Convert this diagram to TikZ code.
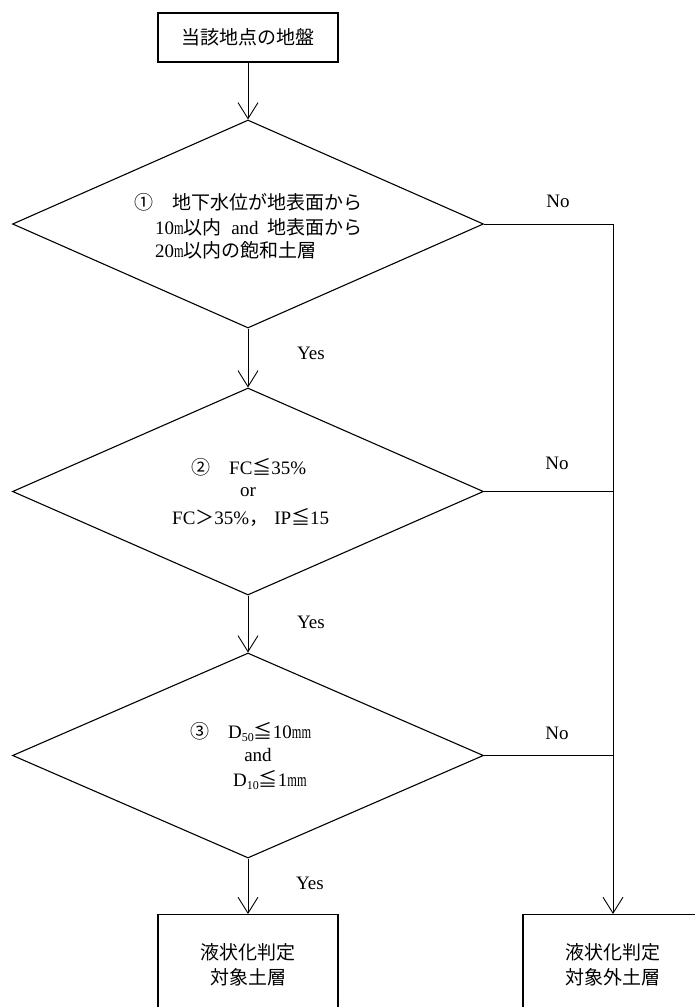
\documentclass[tikz,border=0pt]{standalone}
\usepackage{fontspec}
\setmainfont{Liberation Serif}
\newfontfamily\jp{Noto Sans CJK JP}
\newcommand\jpt[1]{{\jp #1}}
\newcommand\subn[1]{\raisebox{-0.35ex}{\fontsize{12}{12}\selectfont #1}}
\newcommand\nm[1]{\scalebox{0.65}[1]{#1}}
\usetikzlibrary{arrows.meta,shapes.geometric}
\begin{document}
\begin{tikzpicture}[x=1pt,y=-1pt,
  box/.style={draw,line width=1.1pt,rectangle,minimum width=180pt,inner sep=0pt,align=center,font=\jp\fontsize{19}{25}\selectfont},
  dia/.style={draw,line width=1.1pt,diamond,minimum width=471pt,inner sep=0pt},
  txt/.style={inner sep=0pt,font=\fontsize{19}{22}\selectfont},
  flow/.style={line width=0.9pt,-{Straight Barb[length=16pt,width=20pt,line width=0.9pt]}},
  conn/.style={line width=0.9pt}]
\useasboundingbox (0,0) rectangle (694,1007);

% boxes
\node[box,minimum height=49pt] (top) at (248,37.5) {当該地点の地盤};
\node[box,anchor=north,minimum height=100pt] (yes) at (248,914) {液状化判定\\対象土層};
\node[box,anchor=north,minimum height=100pt] (no) at (613,914) {液状化判定\\対象外土層};

% diamonds
\node[dia,minimum height=208pt] (d1) at (248,224) {};
\node[dia,minimum height=207pt] (d2) at (248,491.5) {};
\node[dia,minimum height=205pt] (d3) at (248,755.5) {};

% diamond texts
\node[txt,anchor=west] (t11) at (134,202) {\jpt{①　地下水位が地表面から}};
\node[txt,anchor=west] (t12) at (155,227) {10\nm{m}\jpt{以内}\hspace{0.5em}and\hspace{0.45em}\jpt{地表面から}};
\node[txt,anchor=west] (t13) at (155,250) {20\nm{m}\jpt{以内の飽和土層}};

\node[txt,anchor=west] (t21) at (191,467) {\jpt{②　}FC\jpt{≦}35\%};
\node[txt] (t22) at (248,492) {or};
\node[txt,anchor=west] (t23) at (172,517) {FC\jpt{＞}35\%\jpt{，}\hspace{6pt}IP\jpt{≦}15};

\node[txt,anchor=west] (t31) at (190,732) {\jpt{③　}D\subn{50}\jpt{≦}10\nm{mm}};
\node[txt] (t32) at (258,755) {and};
\node[txt,anchor=west] (t33) at (233,780) {D\subn{10}\jpt{≦}1\nm{mm}};

% junctions
\coordinate (j1) at (613,224);
\coordinate (j2) at (613,491.5);
\coordinate (j3) at (613,755.5);

% connectors
\draw[flow] (top.south) -- (d1.north);
\draw[flow] (d1.south) -- (d2.north);
\draw[flow] (d2.south) -- (d3.north);
\draw[flow] (d3.south) -- (yes.north);
\draw[conn] (d1.east) -- (j1);
\draw[conn] (d2.east) -- (j2);
\draw[conn] (d3.east) -- (j3);
\draw[flow] (j1) -- (no.north);

% labels
\node[txt] (y1) at (311,353) {Yes};
\node[txt] (y2) at (311,622) {Yes};
\node[txt] (y3) at (310,883) {Yes};
\node[txt] (n1) at (558,201) {No};
\node[txt] (n2) at (557,463) {No};
\node[txt] (n3) at (557,733) {No};
\end{tikzpicture}
\end{document}
